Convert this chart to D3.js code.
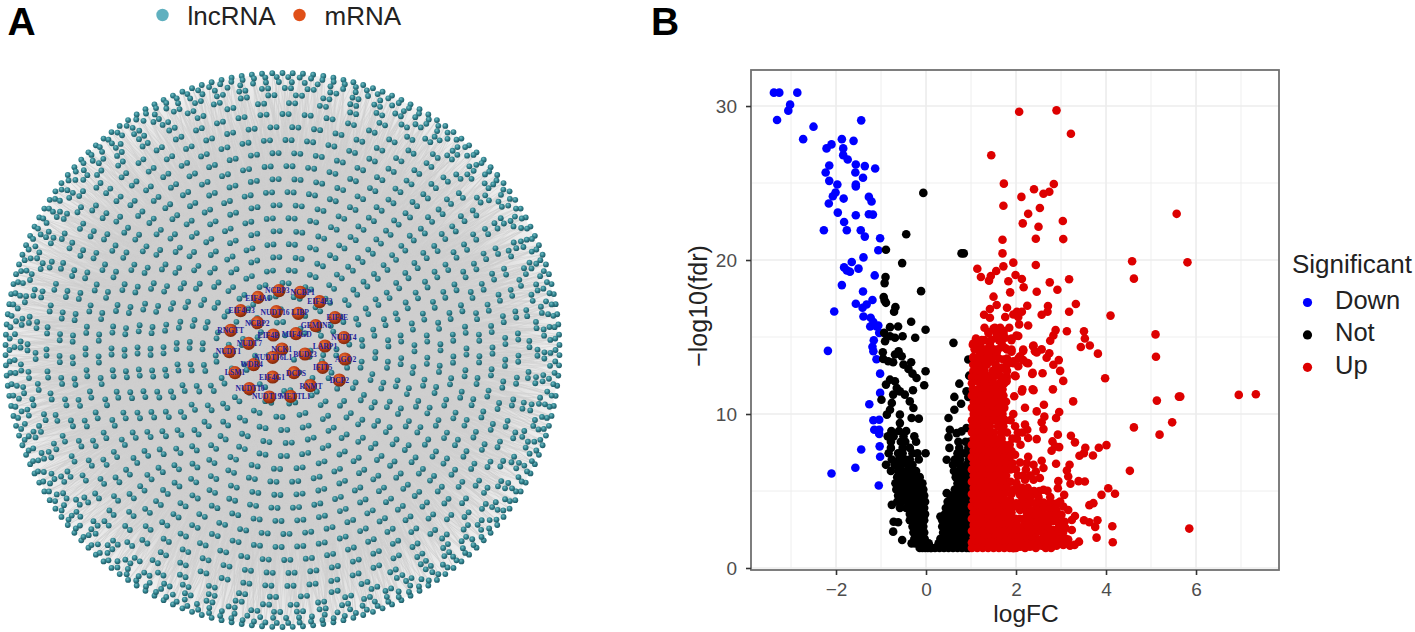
<!DOCTYPE html>
<html><head><meta charset="utf-8">
<script src="https://cdnjs.cloudflare.com/ajax/libs/d3/7.8.5/d3.min.js"></script>
<style>html,body{margin:0;padding:0;background:#fff}svg{display:block}</style>
</head><body><svg id="c" width="1415" height="632"></svg>
<script>
// ---------- Panel A data ----------
const hubNames=["NCBP3","NCBP1","EIF4A1","EIF4E3","EIF4G3","NUDT16","LIBP","EIF4E","NCBP2","GEMIN5","RNGTT","EIF4B","MIF4GD","NUDT4","NUDT7","NCK1","LARP1","NUDT1","BUD23","NUDT16L1","AGO2","WDR4","IFIT5","LSM1","DCPS","EIF4G1","DCP2","RNMT","NUDT10","NUDT19","METTL1"];
// layout position of each sphere and its label (units of a 540 x 420 layout grid)
const hubX=[237,301,174,359,122,229,295,405,172,347,92,220,288,432,146,246,375,88,315,218,435,161,368,105,282,218,418,331,148,208,272];
const hubY=[62,67,82,95,122,125,130,143,158,167,181,195,191,203,220,237,228,245,252,262,267,284,292,308,308,321,330,347,356,381,379];
const hubLabelX=[232,308,174,360,125,225,300,412,172,348,92,205,290,432,148,245,375,85,315,220,437,155,368,105,288,216,418,333,150,200,285];
const hubLabelY=[60,67,85,95,122,127,128,143,160,167,181,195,192,203,220,238,228,245,252,263,268,283,292,308,310,322,331,349,356,380,380];
// concentric rings of the radial lncRNA layout: radius, groups on the ring, nodes per group, start angle (degrees)
const ringRadius=[277,273,268,262,255,247, 236,223,210,197,184,171,158,145,132,119,106,93,80, 67,54,41,28,15];
const ringGroups=[170,150,130,72,58,50, 67,64,61,57,53,49,46,41,38,33,31,26,23, 18,14,10,7,3];
const ringSize  =[1,1,1,2,2,2, 2,2,2,2,2,2,2,2,2,2,2,2,2, 2,2,2,2,1];
const ringPhase =[0,1.2,2,0.5,3,1.5, 0,2.5,0.8,3.4,1.2,4,1.8,5.2,2.6,6.6,3.4,8.1,4.4, 0,12,25,40,10];
const legendA=["lncRNA","mRNA"];

// ---------- Panel B data: [logFC, -log10(fdr)] ----------
const downPoints=[[-3.38,30.87],[-3.26,30.87],[-2.86,30.87],[-3.02,30.09],[-3.06,29.7],[-3.31,29.09],[-1.44,29.07],[-2.5,28.66],[-2.73,27.85],[-1.87,27.85],[-1.61,27.74],[-2.1,27.51],[-2.21,27.25],[-1.84,27.25],[-1.84,26.81],[-1.74,26.53],[-1.56,26.2],[-2.15,26.14],[-1.36,26.1],[-1.13,25.94],[-2.23,25.68],[-1.57,25.68],[-1.4,25.34],[-2.15,25.14],[-1.97,24.9],[-1.56,24.9],[-1.56,24.77],[-2.01,24.38],[-2.07,24.14],[-1.83,23.99],[-1.27,24.1],[-1.21,23.8],[-2.16,23.67],[-1.96,23.08],[-1.56,22.91],[-1.27,22.97],[-1.18,22.95],[-1.82,22.47],[-2.27,21.93],[-1.76,21.93],[-1.45,21.93],[-1.36,21.52],[-1.02,21.41],[-1.06,20.63],[-1.39,20.17],[-1.65,19.87],[-1.82,19.52],[-1.76,19.33],[-1.69,19.24],[-1.5,19.44],[-1.14,19],[-1.87,18.37],[-1.4,17.96],[-1.19,17.4],[-1.56,17.16],[-1.32,17.11],[-1.41,16.9],[-2.04,16.66],[-1.39,16.33],[-1.23,16.25],[-1.17,15.97],[-1.24,15.68],[-1.1,15.68],[-1.06,15.75],[-1.04,15.27],[-1.16,14.79],[-2.18,14.1],[-1.19,14.36],[-1.17,14.08],[-1.1,13.56],[-1.02,12.62],[-1.02,11.37],[-1.26,10.63],[-1.17,9.59],[-1.04,9.63],[-1.15,8.98],[-1.04,8.98],[-1.04,8.7],[-1.44,7.7],[-1.03,7.9],[-1.02,7.22],[-1.57,6.51],[-2.1,6.14],[-1.05,5.36]];
const notPoints=[[-0.06,24.36],[-0.44,21.67],[0.79,20.43],[0.84,20.43],[-0.89,20.67],[-0.53,19.8],[-0.9,18.89],[-0.92,18.5],[-0.11,17.98],[-0.94,17.6],[-0.92,17.37],[-0.89,17.22],[-0.68,16.94],[-0.71,16.64],[-0.33,15.99],[-0.8,15.64],[-0.62,15.68],[-0.01,15.47],[-0.93,15.27],[-0.8,15.05],[-0.69,14.95],[-0.52,15.05],[-0.91,14.73],[-0.24,14.95],[0.61,14.62],[-0.96,14.01],[-0.61,14.08],[-0.69,13.86],[-0.54,13.75],[-0.95,13.58],[-0.84,13.43],[-0.73,13.36],[-0.33,13.36],[-0.5,13.21],[-0.39,12.93],[-0.3,12.62],[-0.01,12.78],[-0.21,12.34],[0.94,13.54],[0.96,12.49],[0.74,11.97],[-0.04,11.87],[-0.8,12.23],[-0.69,12.13],[-0.89,11.91],[-0.65,11.69],[-0.58,11.47],[-0.29,11.54],[-0.47,11.26],[-0.73,11.26],[-0.99,10.93],[-0.76,10.72],[-0.36,10.82],[-0.28,10.39],[-0.8,10.28],[-0.58,9.96],[-0.87,9.96],[-0.32,9.74],[-0.16,9.7],[-0.58,9.41],[0.9,11.47],[0.63,11.11],[0.78,10.67],[0.63,10.28],[0.94,11.11],[0.5,9.74],[0.53,8.98],[0.5,8.5],[0.68,8.76],[0.79,8.87],[0.9,9.09],[-0.76,4.1],[-0.72,3],[-0.62,2.97],[-0.73,2.36],[-0.53,1.82],[0.46,7.03],[0.46,4.86],[0.32,3.34]];
const notRows=[[8.9,[-.77,-.6,-.44]],[8.55,[-.85,-.72,-.5,-.26]],[8.2,[-.78,-.56,-.46,-.22,.72,.88,.96]],[7.8,[-.78,-.52,-.36,.52,.74,.94]],[7.45,[-.83,-.62,-.52,-.3,-.19,-.01,.7,.85,.97]],[7.05,[-.76,-.6,-.46,-.36,-.16,.64,.76,.95]],[6.7,[-.89,-.7,-.55,-.4,-.3,.6,.75,.9,.97]],[6.3,[-.78,-.62,-.52,-.42,-.32,-.22,.62,.72,.82,.92]],[5.9,[-.64,-.54,-.44,-.34,-.24,-.14,.66,.76,.86,.96]],[5.5,[-.68,-.58,-.48,-.38,-.28,-.18,-.08,.7,.8,.9,.98]],[5.1,[-.66,-.56,-.46,-.36,-.26,-.16,-.06,.64,.74,.84,.94]],[4.7,[-.62,-.52,-.42,-.32,-.22,-.12,-.04,.54,.66,.76,.86,.96]],[4.3,[-.64,-.54,-.4,-.3,-.2,-.1,-.02,.48,.58,.68,.78,.88,.97]],[3.9,[-.58,-.44,-.34,-.24,-.14,-.04,.44,.54,.64,.74,.84,.94]],[3.5,[-.36,-.28,-.18,-.08,-.02,.42,.52,.62,.72,.82,.92]],[3.1,[-.36,-.28,-.2,-.12,-.04,.36,.46,.56,.66,.76,.86,.96]],[2.7,[-.3,-.22,-.14,-.06,.36,.44,.54,.64,.74,.84,.94]],[2.3,[-.28,-.2,-.12,-.04,.38,.48,.58,.68,.78,.88,.97]],[1.9,[-.26,-.18,-.1,-.03,.32,.42,.52,.62,.72,.82,.92]],[1.6,[-.32,-.24,-.16,-.08,0,.06,.28,.36,.44,.54,.64,.74,.84,.94]],[1.3,[-.14,-.08,-.02,.04,.1,.12,.2,.3,.4,.5,.6,.7,.8,.9,.96]]];
const upPoints=[[2.07,29.63],[2.9,29.72],[3.22,28.2],[1.45,26.8],[1.73,24.96],[2.84,24.94],[2.4,24.6],[2.74,24.43],[2.61,24.3],[2.12,24.1],[1.72,23.52],[2.53,23.38],[2.27,23],[5.57,23],[2.15,22.38],[3.04,22.53],[2.5,22.16],[2.44,21.38],[3.05,21.36],[1.7,21.32],[1.7,20.43],[4.58,19.92],[5.81,19.85],[1.94,19.83],[2.44,19.68],[1.72,19.59],[1.14,19.43],[1.56,19.29],[1.99,19.03],[1.44,18.96],[1.22,18.9],[2.13,18.77],[1.4,18.66],[4.62,18.79],[3.18,18.75],[1.83,18.62],[2.75,18.55],[2.17,18.23],[2.92,18.07],[1.87,17.9],[2.46,17.94],[1.5,17.62],[3.33,17.14],[1.57,17.08],[2.25,17.03],[2.71,17.01],[1.8,16.9],[1.42,16.82],[3.18,16.64],[2.7,16.64],[2.57,16.45],[1.29,16.45],[2.02,16.64],[2.13,16.64],[1.94,16.46],[1.76,16.3],[2.05,16.3],[1.42,16.25],[4.1,16.39],[2.07,15.82],[2.27,15.75],[1.5,15.55],[2.88,15.45],[3.13,15.37],[3.51,15.37],[5.1,15.17],[1.72,15.25],[1.39,15.3],[1.56,15.35],[2.05,15.07],[1.9,14.9],[2.83,15.1],[3.53,14.9],[1.11,14.9],[2.76,14.76],[1.04,14.5],[1.2,14.5],[1.42,14.5],[1.68,14.6],[1.75,14.3],[2.38,14.4],[3.64,14.45],[3.44,14.35],[2.57,14.2],[2.46,14],[2.16,14.1],[1.9,14.05],[1.46,14.05],[2.74,13.95],[3.82,13.92],[5.11,13.72],[1.05,13.7],[1.27,13.8],[1.5,13.7],[2.68,13.65],[2.95,13.5],[2.05,13.6],[2.16,13.5],[1.94,13.3],[2.27,13.3],[2.83,13.2],[1.27,13.3],[1.42,13.4],[1.68,13],[1.11,13.1],[2.05,13.1],[2.98,12.8],[2.36,12.6],[2.59,12.65],[1.97,12.5],[1.79,12.3],[1.53,12.5],[1.2,12.5],[3.98,12.32],[3.05,12.15],[1.38,12],[1.11,12.2],[1.64,12],[2.14,11.6],[2.37,11.6],[2.82,11.6],[5.13,10.87],[5.62,11.13],[5.65,11.13],[6.95,11.24],[7.33,11.28],[3.27,10.82],[5.47,9.46],[4.62,9.13],[5.19,8.66],[4.53,6.31],[5.85,2.56],[2.62,10.6],[2.2,10.41],[2.46,10.17],[2.96,10.13],[2.63,9.83],[2.89,9.74],[2.57,9.46],[2.2,9.31],[2.61,9.02],[2.25,8.98],[2.27,8.44],[2.46,8.37],[2.93,8.66],[3.22,8.59],[3.31,8.16],[2.81,8.22],[2.87,7.9],[2.96,7.85],[2.79,7.61],[3.54,7.81],[3.84,7.81],[4.01,7.98],[3.51,7.46],[3.41,7.29],[3.71,7.31],[2.27,7.22],[1.98,7.35],[2.57,6.96],[2.09,6.85],[2.39,6.7],[2.89,6.77],[3.19,6.7],[2.61,6.49],[3.13,6.33],[2.44,6.27],[3.16,5.94],[2.53,5.84],[2.94,5.64],[3.39,5.64],[3.53,5.62],[3.21,5.47],[2.39,5.73],[2.2,5.73],[2.01,5.51],[2.93,5.18],[4.05,5.18],[3.9,4.75],[4.2,4.82],[2.61,5.08],[2.7,5.01],[1.94,5.08],[3.07,4.75],[2.61,4.25],[2.68,4.03],[3.63,4.08],[3.72,4.21],[2.98,4.32],[2.83,4.17],[3.05,3.99],[3.16,3.77],[2.9,3.77],[3.31,3.38],[3.01,3.45],[3.24,3.12],[2.81,3.04],[3.51,3.1],[3.63,2.97],[3.81,3.1],[3.76,2.67],[4.14,2.71],[3.01,2.91],[3.24,2.47],[2.96,2.47],[2.53,3.23],[3.79,1.97],[3.4,1.71],[4.15,1.67],[3.2,1.45],[3.09,1.93],[2.9,1.45],[2.87,1.82],[2.68,2.26],[2.5,1.82],[2.57,1.45],[2.31,1.39],[2.31,2.04],[2.09,1.39],[1.94,1.28],[2.76,2.04],[3.05,2.36],[2.83,2.47],[2.39,2.58],[2.16,2.69],[2.39,3.12],[2.2,3.23],[2.09,3.77],[2.35,3.67],[2.24,4.3],[2.01,4.2],[2.09,4.75],[1.87,4.42],[1.13,14.8],[1.05,14.58],[1.16,14.45],[1.39,15.27],[1.53,15.6],[1.72,15.38],[1.57,15.05],[1.76,14.95],[2.01,15.1],[1.42,14.3],[1.27,13.86],[1.2,13.97],[1.57,13.97],[1.39,13.8],[1.9,14.19],[2.16,14.19],[2.39,14.45],[2.42,14.08],[1.05,13.64],[1.42,13.54],[1.72,13.54],[1.94,13.43],[2.09,13.75],[2.24,13.32],[1.05,13.21],[1.24,13.43],[1.68,12.99],[1.05,12.78],[1.2,12.67],[1.39,12.45],[1.57,12.56],[1.79,12.45],[1.99,12.45],[2.37,12.67],[1.13,12.23],[1.27,12.13],[1.46,12.13],[1.64,12.02],[1.79,12.13],[1.96,11.15],[2.13,11.47],[2.39,11.54]];
const upRows=[[15.6,[1.3,1.65,1.85]],[14.8,[1.24,1.3,1.45,1.62,1.9]],[14.2,[1.08,1.26,1.34,1.5,1.6,1.8]],[13.6,[1.12,1.34,1.62,1.8]],[13.2,[1.15,1.35,1.55,1.8]],[12.8,[1.12,1.22,1.3,1.48,1.62,1.8]],[12.4,[1.02,1.08,1.3,1.5,1.68]],[12,[1.02,1.2,1.3,1.5,1.74]],[11.6,[1.04,1.16,1.28,1.42,1.56,1.7]],[11.2,[1.02,1.12,1.24,1.36,1.48,1.6,1.72]],[10.8,[1.06,1.18,1.3,1.42,1.54,1.66,1.78]],[10.4,[1.02,1.14,1.26,1.38,1.5,1.62,1.74]],[10,[1.06,1.18,1.3,1.42,1.54,1.7,1.94]],[9.6,[1.02,1.14,1.26,1.38,1.5,1.62,1.76,1.88]],[9.2,[1.04,1.18,1.3,1.42,1.6,1.72,1.98]],[8.8,[1.02,1.14,1.26,1.38,1.5,1.66,1.8,2.04,2.14]],[8.4,[1.06,1.18,1.3,1.42,1.54,1.68,1.92,2.02]],[8,[1.02,1.14,1.26,1.38,1.5,1.62,1.74,1.86,2.1]],[7.6,[1.06,1.18,1.3,1.42,1.54,1.66,1.78,1.9]],[7.2,[1.02,1.14,1.26,1.38,1.5,1.62,1.74,1.86]],[6.8,[1.06,1.18,1.3,1.42,1.54,1.66,1.78,1.92,2.24]],[6.4,[1.02,1.14,1.26,1.38,1.5,1.62,1.74,1.88,2,2.22]],[6,[1.06,1.18,1.3,1.42,1.54,1.66,1.78,2.04,2.16,2.32]],[5.6,[1.02,1.14,1.26,1.38,1.5,1.62,1.74,1.88]],[5.2,[1.06,1.18,1.3,1.42,1.54,1.66,1.8,2.14,2.26]],[5,[2.04,2.14,2.4,2.52]],[4.8,[1.02,1.14,1.26,1.38,1.5,1.62,1.74,1.9,2.24,2.42]],[4.6,[2.32,2.5,2.76]],[4.4,[1.06,1.18,1.3,1.42,1.54,1.66,1.78,2.14]],[4.2,[2.28,2.42,2.52,2.74,2.92]],[4,[1.02,1.14,1.26,1.38,1.5,1.62,1.74,1.86,1.98,2.12,2.22,2.46]],[3.8,[2.3,2.45,2.6,2.75,2.85]],[3.6,[1.06,1.18,1.3,1.42,1.54,1.66,1.78,1.9,2.24,2.48]],[3.4,[2.42,2.54,2.64,2.76,2.9]],[3.2,[1.02,1.14,1.26,1.38,1.5,1.62,1.74,1.86,1.98,2.08,2.3]],[3,[2.2,2.32,2.46,2.58,2.7,2.92,3.08]],[2.8,[1.06,1.18,1.3,1.42,1.54,1.66,1.78,1.9,2.02,2.26,2.5,2.7]],[2.6,[2.14,2.3,2.6,2.72,2.94,3.1]],[2.4,[1.02,1.14,1.26,1.38,1.5,1.62,1.74,1.86,1.98,2.1,2.54]],[2.2,[2.2,2.3,2.44,2.62,2.8,2.95]],[2,[1.06,1.18,1.3,1.42,1.54,1.66,1.78,1.9,2.02,2.16,2.42,2.62]],[1.85,[2.12,2.24,2.38,2.6,2.74,2.98,3.16]],[1.65,[1.02,1.14,1.26,1.38,1.5,1.62,1.74,1.86,1.98,2.12,2.22,2.42,2.74]],[1.5,[2.14,2.26,2.36,2.48,2.68,2.8,3.05,3.3]],[1.3,[1.02,1.14,1.26,1.38,1.5,1.62,1.74,1.86,2,2.2,2.44,2.66,2.78]]];
const xTicks=[-2,0,2,4,6];
const xMinor=[-3,-1,1,3,5,7];
const yTicks=[0,10,20,30];
const yMinor=[5,15,25];
const legendB=["Down","Not","Up"];
const colorB=["#0000ff","#000000","#dd0000"];

const flat=rows=>rows.flatMap(([y,xs])=>xs.map(x=>[x,y]));
const svg=d3.select("#c");
const defs=svg.append("defs");
function sphere(id,stops){const g=defs.append("radialGradient").attr("id",id).attr("cx","40%").attr("cy","35%").attr("r","70%");
 stops.forEach(([o,c])=>g.append("stop").attr("offset",o).attr("stop-color",c));}
sphere("teal",[["0%","#76bdc3"],["45%","#348894"],["100%","#1a505b"]]);
sphere("orange",[["0%","#ee7f3c"],["45%","#c8451a"],["100%","#762408"]]);
const discGrad=defs.append("radialGradient").attr("id","disc");
[["0%","#cdcdcd"],["62%","#d0d0d0"],["82%","#dcdcdc"],["100%","#efefef"]].forEach(([o,c])=>discGrad.append("stop").attr("offset",o).attr("stop-color",c));

// ---------- Panel A ----------
const sans="'Liberation Sans',Arial,sans-serif";
svg.append("text").attr("x",7.5).attr("y",35.3).attr("font-family",sans).attr("font-weight",700).attr("font-size",39).text("A");
svg.append("text").attr("x",651).attr("y",35.3).attr("font-family",sans).attr("font-weight",700).attr("font-size",39).text("B");
const legA=svg.append("g");
[[162.5,"#5fb0bf",187.5],[299.5,"#e05018",324.5]].forEach(([cx,col,tx],i)=>{
 legA.append("circle").attr("cx",cx).attr("cy",15).attr("r",6.2).attr("fill",col);
 legA.append("text").attr("x",tx).attr("y",25).attr("font-family",sans).attr("font-size",26).attr("fill","#222").text(legendA[i]);
});
const lx=d3.scaleLinear().domain([0,540]).range([200,380]);
const ly=d3.scaleLinear().domain([0,420]).range([270,410]);
const cx0=282.5,cy0=350;
svg.append("circle").attr("cx",cx0).attr("cy",cy0).attr("r",ringRadius[0]-1).attr("fill","url(#disc)");
const hubs=hubNames.map((n,i)=>({n,x:lx(hubX[i]),y:ly(hubY[i]),lx:lx(hubLabelX[i]),ly:ly(hubLabelY[i])}));
const nodes=[];
ringRadius.forEach((r,k)=>{for(let j=0;j<ringGroups[k];j++){
 for(let m=0;m<ringSize[k];m++){
  const a=(ringPhase[k]+j*360/ringGroups[k])*Math.PI/180+m*6.2/r;
  const [px,py]=d3.pointRadial(a,r);
  nodes.push({x:cx0+px,y:cy0+py,a,r});
 }
}});
const edgeG=svg.append("g").attr("stroke","#cfcfcf").attr("stroke-width",0.5).attr("fill","none");
let path=d3.path();
nodes.forEach((d,i)=>{
 const byDist=hubs.map((h,hi)=>[(h.x-d.x)**2+(h.y-d.y)**2,hi]).sort((p,q)=>p[0]-q[0]);
 [i%5,(i*3+5)%12,(i*5+9)%18].forEach(o=>{const h=hubs[byDist[o][1]];path.moveTo(d.x,d.y);path.lineTo(h.x,h.y);});
});
edgeG.append("path").attr("d",path.toString());
svg.append("g").selectAll("circle").data(nodes).join("circle").attr("cx",d=>d.x).attr("cy",d=>d.y).attr("r",2.9).attr("fill","url(#teal)");
svg.append("g").selectAll("circle").data(hubs).join("circle").attr("cx",d=>d.x).attr("cy",d=>d.y).attr("r",6.6).attr("fill","url(#orange)");
svg.append("g").selectAll("text").data(hubs).join("text").attr("x",d=>d.lx).attr("y",d=>d.ly+2.5).attr("text-anchor","middle")
 .attr("font-family","'Liberation Serif',serif").attr("font-weight",700).attr("font-size",7.6).attr("fill","#24249c").text(d=>d.n);

// ---------- Panel B ----------
const L=751,R=1279,T=70,B=570;
const x=d3.scaleLinear().domain([-3.889,7.844]).range([L,R]);
const y=d3.scaleLinear().domain([-0.13,32.34]).range([B,T]);
const gridG=svg.append("g").attr("stroke","#ececec");
xMinor.forEach(v=>gridG.append("line").attr("x1",x(v)).attr("x2",x(v)).attr("y1",T).attr("y2",B).attr("stroke-width",0.9));
yMinor.forEach(v=>gridG.append("line").attr("y1",y(v)).attr("y2",y(v)).attr("x1",L).attr("x2",R).attr("stroke-width",0.9));
xTicks.forEach(v=>gridG.append("line").attr("x1",x(v)).attr("x2",x(v)).attr("y1",T).attr("y2",B).attr("stroke-width",1.6));
yTicks.forEach(v=>gridG.append("line").attr("y1",y(v)).attr("y2",y(v)).attr("x1",L).attr("x2",R).attr("stroke-width",1.6));
const groups=[downPoints,notPoints.concat(flat(notRows)),upPoints.concat(flat(upRows))];
groups.forEach((pts,i)=>{
 svg.append("g").attr("fill",colorB[i]).selectAll("circle").data(pts).join("circle")
  .attr("cx",d=>x(d[0])).attr("cy",d=>y(d[1])).attr("r",4.3);
});
svg.append("rect").attr("x",L).attr("y",T).attr("width",R-L).attr("height",B-T).attr("fill","none").attr("stroke","#707070").attr("stroke-width",1.8);
const fmt=d=>String(d).replace("-","\u2212");
const ax=svg.append("g").attr("transform",`translate(0,${B})`).call(d3.axisBottom(x).tickValues(xTicks).tickFormat(fmt).tickSizeOuter(0).tickSize(5));
const ay=svg.append("g").attr("transform",`translate(${L},0)`).call(d3.axisLeft(y).tickValues(yTicks).tickFormat(fmt).tickSizeOuter(0).tickSize(5));
[ax,ay].forEach(a=>{a.select(".domain").remove();a.selectAll("line").attr("stroke","#333").attr("stroke-width",1.6);
 a.selectAll("text").attr("font-family",sans).attr("font-size",19).attr("fill","#4d4d4d");});
ax.selectAll("text").attr("dy",null).attr("y",25.5);
ay.selectAll("text").attr("x",-14);
svg.append("text").attr("x",1026).attr("y",621.5).attr("text-anchor","middle").attr("font-family",sans).attr("font-size",24.5).attr("fill","#222").text("logFC");
svg.append("text").attr("transform","translate(707,306) rotate(-90)").attr("text-anchor","middle").attr("font-family",sans).attr("font-size",25).attr("fill","#222").text("\u2212log10(fdr)");
svg.append("text").attr("x",1292).attr("y",273).attr("font-family",sans).attr("font-size",26).attr("fill","#222").text("Significant");
legendB.forEach((t,i)=>{
 const yy=d3.scaleLinear().domain([0,2]).range([302.5,367.3])(i);
 svg.append("circle").attr("cx",1307.5).attr("cy",yy).attr("r",4.6).attr("fill",colorB[i]);
 svg.append("text").attr("x",1335).attr("y",yy+6.5).attr("font-family",sans).attr("font-size",25.5).attr("fill","#222").text(t);
});
</script></body></html>
